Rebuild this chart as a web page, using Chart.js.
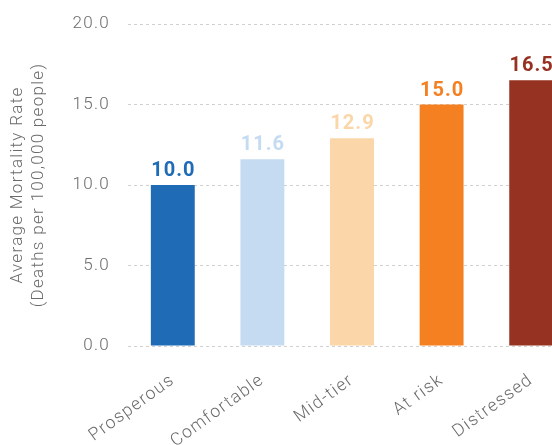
<!DOCTYPE html>
<html>
<head>
<meta charset="utf-8">
<script src="https://cdn.jsdelivr.net/npm/chart.js@4/dist/chart.umd.min.js"></script>
<style>
  html, body { margin: 0; padding: 0; background: #fff; overflow: hidden; }
  #wrap { position: relative; width: 576px; height: 445px; }
</style>
</head>
<body>
<div id="wrap"><canvas id="myChart"></canvas></div>
<script>
// data
var categories = ['Prosperous', 'Comfortable', 'Mid-tier', 'At risk', 'Distressed'];
var mortality = [10.0, 11.6, 12.9, 15.0, 16.5];
var barColors = ['#1f6bb6', '#c4dbf1', '#fad6a8', '#f58021', '#963221'];
var yTicks = [0, 5, 10, 15, 20];

var fontFamily = 'Roboto, "Liberation Sans", sans-serif';

// reference font is wider than Roboto, so open the letters up a bit
const spacing = {
  id: 'spacing',
  beforeDraw(chart) {
    chart.ctx.letterSpacing = '1.3px';
  }
};

// draws value above each bar in the bar's own colour
const valueLabels = {
  id: 'valueLabels',
  afterDatasetsDraw(chart) {
    const ctx = chart.ctx;
    const meta = chart.getDatasetMeta(0);
    ctx.save();
    ctx.letterSpacing = '1px';
    ctx.font = 'bold 20px ' + fontFamily;
    ctx.textAlign = 'center';
    ctx.textBaseline = 'alphabetic';
    meta.data.forEach((bar, i) => {
      ctx.fillStyle = barColors[i];
      ctx.fillText(mortality[i].toFixed(1), bar.x + 0.5, bar.y - 9);
    });
    ctx.restore();
  }
};

const myChart = new Chart(document.getElementById('myChart'), {
  type: 'bar',
  data: {
    labels: categories,
    datasets: [{
      label: 'Average Mortality Rate',
      data: mortality,
      backgroundColor: barColors,
      borderWidth: 0,
      barPercentage: 0.49,
      categoryPercentage: 1
    }]
  },
  options: {
    responsive: true,
    maintainAspectRatio: false,
    animation: false,
    layout: { padding: { top: 24, right: 0, left: 0, bottom: 0 } },
    plugins: {
      legend: { display: false },
      tooltip: { enabled: false }
    },
    scales: {
      x: {
        grid: { display: false, drawTicks: false },
        border: { display: false },
        afterFit: function (scale) {
          scale.height = 99;
          scale.paddingLeft = 0;
          scale.paddingRight = 0;
        },
        ticks: {
          color: '#6b6b6b',
          font: { family: fontFamily, size: 17.5, weight: 300 },
          minRotation: 36,
          maxRotation: 36,
          padding: 24
        }
      },
      y: {
        min: 0,
        max: 20,
        afterFit: function (scale) {
          scale.width = 128;
          scale.paddingTop = 0;
          scale.paddingBottom = 0;
        },
        afterBuildTicks: function (scale) {
          scale.ticks = yTicks.map(v => ({ value: v }));
        },
        grid: {
          color: '#d0d0d0',
          lineWidth: 1,
          drawTicks: false
        },
        border: { display: false, dash: [3, 3] },
        ticks: {
          color: '#6b6b6b',
          font: { family: fontFamily, size: 17, weight: 300 },
          padding: 18,
          callback: function (v) { return Number(v).toFixed(1); }
        },
        title: {
          display: true,
          text: ['Average Mortality Rate', '(Deaths per 100,000 people)'],
          color: '#6b6b6b',
          font: { family: fontFamily, size: 17, weight: 300, lineHeight: 1.2 },
          padding: { top: 8, bottom: 0 }
        }
      }
    }
  },
  plugins: [spacing, valueLabels]
});
</script>
</body>
</html>
